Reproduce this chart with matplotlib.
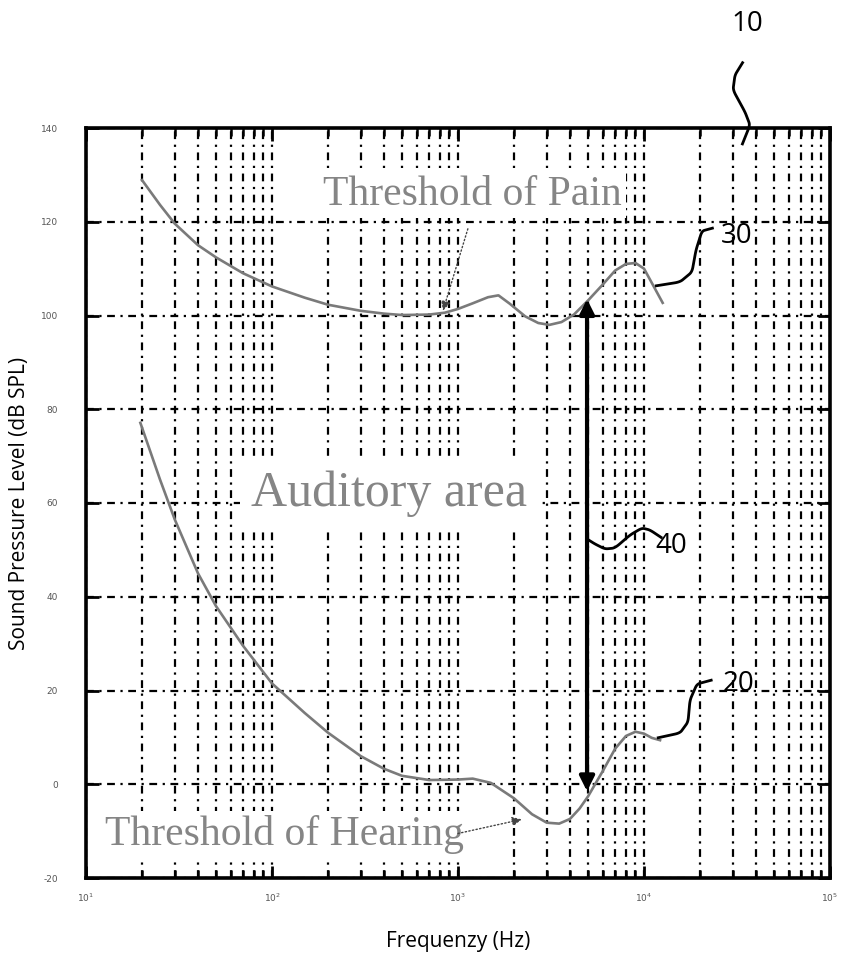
import numpy as np
import matplotlib
matplotlib.use("Agg")
import matplotlib.pyplot as plt
from matplotlib.ticker import LogLocator, FixedLocator, NullFormatter

# ---------------- data ----------------
pain_freq = [20, 25, 30, 40, 50, 70, 100, 150, 200, 300, 400, 500, 700, 850, 1000, 1200,
             1450, 1650, 1900, 2300, 2700, 3100, 3600, 4200, 5000, 6000, 7000, 8000, 9000,
             10000, 11000, 12600]
pain_db   = [128.9, 123.6, 119.6, 115.0, 112.4, 109.0, 106.2, 103.8, 102.3, 101.0, 100.4,
             100.1, 100.2, 100.6, 101.4, 102.6, 103.9, 104.3, 102.5, 99.8, 98.4, 98.0, 98.6,
             100.2, 103.2, 106.6, 109.6, 111.0, 111.2, 110.0, 107.0, 102.7]

hear_freq = [19.6, 25, 30, 40, 50, 70, 100, 150, 200, 300, 400, 500, 700, 1000, 1200,
             1500, 2000, 2500, 3000, 3500, 4000, 4500, 5000, 6000, 7000, 8000, 9000,
             10000, 11000, 12200]
hear_db   = [77.1, 65.0, 56.5, 45.0, 38.0, 29.5, 21.5, 15.2, 11.0, 6.0, 3.3, 1.8, 0.9,
             1.0, 1.2, 0.3, -3.0, -6.4, -8.2, -8.4, -7.4, -5.2, -2.6, 2.8, 7.6, 10.3, 11.2,
             10.8, 9.9, 9.4]

range_freq = 4940
range_top = 103.5
range_bottom = -1.5

x_ticks = [1e1, 1e2, 1e3, 1e4, 1e5]
x_tick_labels = [r"$10^{1}$", r"$10^{2}$", r"$10^{3}$", r"$10^{4}$", r"$10^{5}$"]
y_ticks = [-20, 0, 20, 40, 60, 80, 100, 120, 140]
y_tick_labels = ["-20", "0", "20", "40", "60", "80", "100", "120", "140"]

ref_labels = ["10", "30", "40", "20"]

W, H = 842, 959
fig = plt.figure(figsize=(W / 100, H / 100), dpi=100)
ax = fig.add_axes([86 / W, 1 - 878 / H, (830 - 86) / W, (878 - 128) / H])

ax.set_xscale("log")
ax.set_xlim(1e1, 1e5)
ax.set_ylim(-20, 140)

gridstyle = (0, (3.5, 2.5, 1, 2.5))
ax.xaxis.set_major_locator(FixedLocator(x_ticks))
ax.xaxis.set_minor_locator(LogLocator(base=10, subs=np.arange(2, 10)))
ax.xaxis.set_minor_formatter(NullFormatter())
ax.set_xticklabels(x_tick_labels)
ax.set_yticks(y_ticks)
ax.set_yticklabels(y_tick_labels)

ax.grid(which="major", axis="both", color="black", linestyle=gridstyle, linewidth=1.6)
ax.grid(which="minor", axis="x", color="black", linestyle=gridstyle, linewidth=1.6)

ax.tick_params(which="major", direction="in", length=9, width=2, top=True, right=True,
               labelsize=6.5, labelcolor="#555555")
ax.tick_params(which="minor", direction="in", length=6, width=1.8, top=True, right=True)
ax.tick_params(axis="y", pad=20)
ax.tick_params(axis="x", pad=10)
for s in ax.spines.values():
    s.set_linewidth(2.6)

curve_col = "#7a7a7a"
ax.plot(pain_freq, pain_db, color=curve_col, lw=1.9, zorder=5, solid_joinstyle="round")
ax.plot(hear_freq, hear_db, color=curve_col, lw=1.9, zorder=5, solid_joinstyle="round")

ax.annotate("", xy=(range_freq, range_top), xytext=(range_freq, range_bottom),
            arrowprops=dict(arrowstyle="<|-|>", color="black", lw=3, mutation_scale=22,
                            shrinkA=0, shrinkB=0), zorder=6)

text_col = "#858585"
serif = ["Liberation Serif", "DejaVu Serif"]
bbox = dict(facecolor="white", edgecolor="none", pad=3)
ax.text(1190, 123.6, "Threshold of Pain", family=serif, fontsize=30, color=text_col,
        ha="center", va="baseline", bbox=bbox, zorder=4)
ax.text(425, 59.4, "Auditory area", family=serif, fontsize=36, color=text_col,
        ha="center", va="baseline", bbox=dict(facecolor="white", edgecolor="none", pad=8), zorder=4)
ax.text(117, -13.0, "Threshold of Hearing", family=serif, fontsize=30, color=text_col,
        ha="center", va="baseline", bbox=bbox, zorder=4)

# pointer arrows from text to curves
ax.annotate("", xy=(830, 101.0), xytext=(1130, 118.5),
            arrowprops=dict(arrowstyle="-|>", color="#444444", lw=1, linestyle=":",
                            mutation_scale=14, shrinkA=0, shrinkB=0), zorder=6)
ax.annotate("", xy=(2200, -7.5), xytext=(1000, -10.5),
            arrowprops=dict(arrowstyle="-|>", color="#444444", lw=1, linestyle=":",
                            mutation_scale=14, shrinkA=0, shrinkB=0), zorder=6)

ax.set_xlabel("Frequenzy (Hz)", family=["Open Sans", "DejaVu Sans"], fontsize=15)
ax.set_ylabel("Sound Pressure Level (dB SPL)", family=["Open Sans", "DejaVu Sans"], fontsize=15)
ax.xaxis.set_label_coords(0.5, -0.07)
ax.yaxis.set_label_coords(-0.075, 0.5)

# overlay for reference numerals and leader lines (pixel coordinates)
ov = fig.add_axes([0, 0, 1, 1], zorder=10)
ov.set_xlim(0, W)
ov.set_ylim(H, 0)
ov.axis("off")
ov.patch.set_alpha(0)

label_pos = [(747, 24), (737, 236), (671, 546), (739, 684)]
leaders = [
    [(743, 62), (735, 75), (733, 90), (745, 112), (750, 125), (742, 145)],
    [(713, 228), (702, 231), (696, 250), (692, 272), (680, 282), (655, 286)],
    [(662, 538), (650, 530), (642, 528), (630, 535), (615, 548), (605, 549), (595, 544), (587, 539)],
    [(712, 680), (697, 684), (690, 700), (688, 722), (680, 733), (657, 738)],
]
for lab, (lx, ly), pts in zip(ref_labels, label_pos, leaders):
    ov.text(lx, ly, lab, family=["Open Sans", "DejaVu Sans"], fontsize=20,
            ha="center", va="center", color="black")
    p = np.array(pts, dtype=float)
    t = np.linspace(0, 1, len(p))
    tt = np.linspace(0, 1, 80)
    xs = np.interp(tt, t, p[:, 0])
    ys = np.interp(tt, t, p[:, 1])
    k = np.ones(7) / 7
    xs = np.convolve(np.pad(xs, 3, mode="edge"), k, mode="valid")
    ys = np.convolve(np.pad(ys, 3, mode="edge"), k, mode="valid")
    ov.plot(xs, ys, color="black", lw=2)

fig.savefig("out.png", dpi=100)
